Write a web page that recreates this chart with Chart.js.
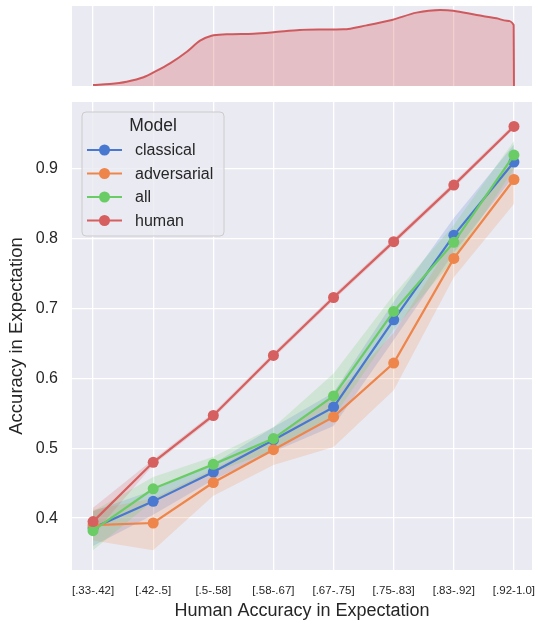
<!DOCTYPE html>
<html>
<head>
<meta charset="utf-8">
<script src="https://cdn.jsdelivr.net/npm/chart.js@4/dist/chart.umd.min.js"></script>
<style>
  html, body { margin: 0; padding: 0; background: #ffffff; }
  #wrap { position: relative; width: 538px; height: 626px; }
  #main { position: absolute; left: 0; top: 0; }
  #top { position: absolute; left: 0; top: 0; }
</style>
</head>
<body>
<div id="wrap">
  <canvas id="main" width="538" height="626"></canvas>
  <canvas id="top" width="538" height="92"></canvas>
</div>
<script>
// ---------- data ----------
const categories = ['[.33-.42]', '[.42-.5]', '[.5-.58]', '[.58-.67]', '[.67-.75]', '[.75-.83]', '[.83-.92]', '[.92-1.0]'];
const seriesNames = ['classical', 'adversarial', 'all', 'human'];

const classical   = [0.386, 0.424, 0.466, 0.512, 0.559, 0.684, 0.805, 0.910];
const classicalLo = [0.360, 0.405, 0.455, 0.495, 0.532, 0.655, 0.780, 0.890];
const classicalHi = [0.410, 0.440, 0.478, 0.530, 0.580, 0.710, 0.830, 0.935];

const adversarial   = [0.390, 0.393, 0.451, 0.498, 0.545, 0.622, 0.772, 0.885];
const adversarialLo = [0.368, 0.354, 0.432, 0.476, 0.502, 0.583, 0.745, 0.850];
const adversarialHi = [0.412, 0.428, 0.470, 0.516, 0.575, 0.665, 0.800, 0.920];

const allModels   = [0.382, 0.442, 0.477, 0.514, 0.575, 0.696, 0.795, 0.920];
const allModelsLo = [0.354, 0.425, 0.465, 0.497, 0.545, 0.670, 0.770, 0.900];
const allModelsHi = [0.410, 0.459, 0.488, 0.530, 0.607, 0.720, 0.820, 0.940];

const human   = [0.395, 0.480, 0.547, 0.633, 0.716, 0.796, 0.877, 0.961];
const humanLo = [0.376, 0.476, 0.543, 0.629, 0.712, 0.792, 0.873, 0.958];
const humanHi = [0.415, 0.484, 0.551, 0.637, 0.720, 0.800, 0.881, 0.965];

const yTicks = [0.4, 0.5, 0.6, 0.7, 0.8, 0.9];

// marginal density of human accuracy (x in category units)
const kdeX = [0.00, 0.28, 0.56, 0.84, 1.03, 1.28, 1.56, 1.78, 1.97, 2.22, 2.67, 3.00, 3.44, 3.80, 4.16, 4.55, 4.97, 5.38, 5.77, 5.99, 6.38, 6.71, 6.88, 6.995, 7.00];
const kdeY = [0.012, 0.025, 0.054, 0.109, 0.179, 0.283, 0.429, 0.567, 0.629, 0.646, 0.654, 0.671, 0.700, 0.705, 0.708, 0.758, 0.825, 0.917, 0.950, 0.942, 0.887, 0.846, 0.817, 0.762, 0.0];

// ---------- styling ----------
const colors = ['#4878D0', '#EE854A', '#6ACC64', '#D65F5F'];
const bandColors = ['rgba(72,120,208,0.2)', 'rgba(238,133,74,0.2)', 'rgba(106,204,100,0.2)', 'rgba(214,95,95,0.2)'];
const BG = '#EAEAF2';
const TXT = '#262626';
const FONT = "'Liberation Sans', Arial, sans-serif";

const bgPlugin = {
  id: 'bg',
  beforeDraw(chart) {
    const a = chart.chartArea, c = chart.ctx;
    c.save();
    c.fillStyle = BG;
    c.fillRect(a.left, a.top, a.right - a.left, a.bottom - a.top);
    c.restore();
  }
};

const pts = arr => arr.map((v, i) => ({ x: i, y: v }));

const meansList = [classical, adversarial, allModels, human];
const loList = [classicalLo, adversarialLo, allModelsLo, humanLo];
const hiList = [classicalHi, adversarialHi, allModelsHi, humanHi];

const datasets = [];
for (let k = 0; k < 4; k++) {
  const loIdx = datasets.length;
  datasets.push({
    label: seriesNames[k] + '_lo', data: pts(loList[k]), borderWidth: 0, borderColor: 'rgba(0,0,0,0)',
    pointRadius: 0, fill: false, order: 40 - k * 2
  });
  datasets.push({
    label: seriesNames[k] + '_hi', data: pts(hiList[k]), borderWidth: 0, borderColor: 'rgba(0,0,0,0)',
    pointRadius: 0, fill: { target: loIdx }, backgroundColor: bandColors[k], order: 39 - k * 2
  });
}
for (let k = 0; k < 4; k++) {
  datasets.push({
    label: seriesNames[k], data: pts(meansList[k]), borderColor: colors[k], backgroundColor: colors[k],
    borderWidth: 2.2, pointRadius: 5.5, pointBorderWidth: 0, pointBackgroundColor: colors[k],
    fill: false, order: 10 - k
  });
}

const legendPlugin = {
  id: 'customLegend',
  afterDraw(chart) {
    const c = chart.ctx;
    const x0 = 82, y0 = 112, w = 142, h = 124, r = 4;
    c.save();
    c.beginPath();
    c.moveTo(x0 + r, y0);
    c.arcTo(x0 + w, y0, x0 + w, y0 + h, r);
    c.arcTo(x0 + w, y0 + h, x0, y0 + h, r);
    c.arcTo(x0, y0 + h, x0, y0, r);
    c.arcTo(x0, y0, x0 + w, y0, r);
    c.closePath();
    c.fillStyle = 'rgba(234,234,242,0.8)';
    c.fill();
    c.strokeStyle = '#CCCCCC';
    c.lineWidth = 1;
    c.stroke();
    c.fillStyle = TXT;
    c.textBaseline = 'middle';
    c.textAlign = 'center';
    c.font = '17.5px ' + FONT;
    c.fillText('Model', 153, 126);
    const rows = [150, 173.5, 197, 220.5];
    c.textAlign = 'left';
    c.font = '16px ' + FONT;
    for (let k = 0; k < 4; k++) {
      const y = rows[k];
      c.strokeStyle = colors[k];
      c.lineWidth = 2.2;
      c.beginPath();
      c.moveTo(87, y); c.lineTo(122, y); c.stroke();
      c.fillStyle = colors[k];
      c.beginPath(); c.arc(104.5, y, 5.5, 0, Math.PI * 2); c.fill();
      c.fillStyle = TXT;
      c.fillText(seriesNames[k], 135, y + 1);
    }
    c.restore();
  }
};

new Chart(document.getElementById('main'), {
  type: 'line',
  data: { datasets },
  options: {
    responsive: false, animation: false,
    layout: { padding: { top: 102, right: 6, left: 0, bottom: 0 } },
    plugins: { legend: { display: false }, tooltip: { enabled: false } },
    scales: {
      x: {
        type: 'linear', min: -0.35, max: 7.3,
        afterBuildTicks: s => { s.ticks = categories.map((c, i) => ({ value: i })); },
        afterFit: s => { s.height = 56; s.paddingLeft = 0; s.paddingRight = 0; },
        ticks: { callback: (v, i) => categories[i], font: { family: FONT, size: 11.5 }, color: TXT, padding: 14, maxRotation: 0, autoSkip: false },
        grid: { color: '#ffffff', lineWidth: 1.3, drawTicks: false },
        border: { display: false },
        title: { display: true, text: 'Human Accuracy in Expectation', font: { family: FONT, size: 18 }, color: TXT, padding: { top: 0, bottom: 4 } }
      },
      y: {
        type: 'linear', min: 0.3257, max: 0.996,
        afterBuildTicks: s => { s.ticks = yTicks.map(v => ({ value: v })); },
        afterFit: s => { s.width = 72; s.paddingTop = 0; s.paddingBottom = 0; },
        ticks: { callback: v => v.toFixed(1), font: { family: FONT, size: 16 }, color: TXT, padding: 14 },
        grid: { color: '#ffffff', lineWidth: 1.3, drawTicks: false },
        border: { display: false },
        title: { display: true, text: 'Accuracy in Expectation', font: { family: FONT, size: 18.5 }, color: TXT, padding: { top: 6, bottom: 0 } }
      }
    }
  },
  plugins: [bgPlugin, legendPlugin]
});

new Chart(document.getElementById('top'), {
  type: 'line',
  data: {
    datasets: [{
      label: 'density', data: kdeX.map((x, i) => ({ x, y: kdeY[i] })),
      borderColor: '#CF5A5E', borderWidth: 2, pointRadius: 0,
      backgroundColor: 'rgba(214,95,95,0.3)', fill: 'origin', cubicInterpolationMode: 'monotone'
    }]
  },
  options: {
    responsive: false, animation: false,
    layout: { padding: { top: 6, right: 6, left: 72, bottom: 6 } },
    plugins: { legend: { display: false }, tooltip: { enabled: false } },
    scales: {
      x: {
        type: 'linear', min: -0.35, max: 7.3,
        afterBuildTicks: s => { s.ticks = categories.map((c, i) => ({ value: i })); },
        afterFit: s => { s.height = 0; s.paddingLeft = 0; s.paddingRight = 0; },
        ticks: { display: false },
        grid: { color: '#ffffff', lineWidth: 1.3, drawTicks: false },
        border: { display: false }
      },
      y: { display: false, min: 0, max: 1 }
    }
  },
  plugins: [bgPlugin]
});
</script>
</body>
</html>
